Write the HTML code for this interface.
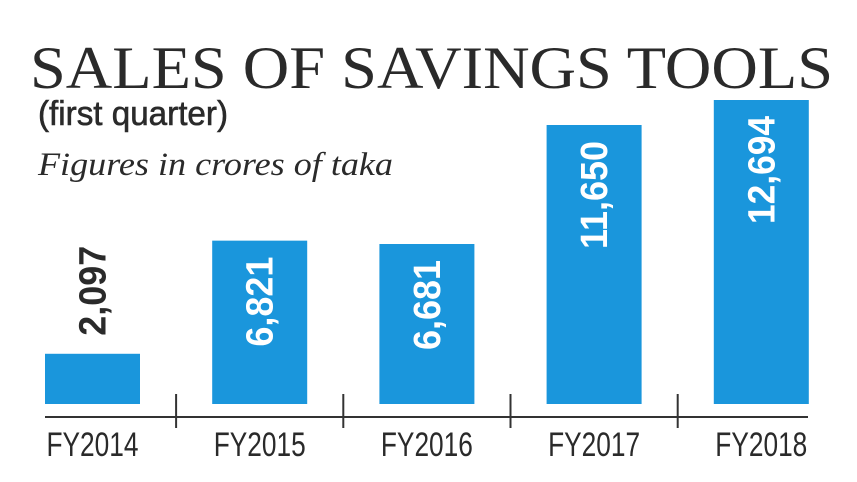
<!DOCTYPE html>
<html><head><meta charset="utf-8"><style>
html,body{margin:0;padding:0;background:#fff;}
svg{display:block;}
</style></head><body>
<svg id="chart" width="857" height="482" viewBox="0 0 857 482" xmlns="http://www.w3.org/2000/svg">
<text x="30" y="88" font-family="Liberation Serif, serif" font-size="60" textLength="803" lengthAdjust="spacingAndGlyphs" fill="#2a2a2a">SALES OF SAVINGS TOOLS</text>
<text x="38" y="125" font-family="Liberation Sans, sans-serif" font-size="34" textLength="190" lengthAdjust="spacingAndGlyphs" fill="#2a2a2a" stroke="#2a2a2a" stroke-width="0.6">(first quarter)</text>
<text x="38" y="175" font-family="Liberation Serif, serif" font-style="italic" font-size="33" textLength="355" lengthAdjust="spacingAndGlyphs" fill="#2a2a2a">Figures in crores of taka</text>
<g id="bars"></g>
<line x1="45" y1="417" x2="808" y2="417" stroke="#333" stroke-width="2"/>
</svg>
<script>
const categories = ["FY2014","FY2015","FY2016","FY2017","FY2018"];
const values = [2097, 6821, 6681, 11650, 12694];
const valueLabels = ["2,097","6,821","6,681","11,650","12,694"];

const svg = document.getElementById('chart');
const g = document.getElementById('bars');
const NS = "http://www.w3.org/2000/svg";
const baseY = 404, plotH = 304, maxV = 12694;
const x0 = 45, step = 167.2, barW = 95;
function yScale(v){ return baseY - v / maxV * plotH; }
function xScale(i){ return x0 + i * step; }

categories.forEach((c, i) => {
  const x = xScale(i), y = yScale(values[i]);
  const r = document.createElementNS(NS, 'rect');
  r.setAttribute('x', x); r.setAttribute('y', y);
  r.setAttribute('width', barW); r.setAttribute('height', baseY - y);
  r.setAttribute('fill', '#1a96dc');
  
  
  g.appendChild(r);

  const inside = (baseY - y) > 130;
  const cx = x + barW / 2;
  const len = valueLabels[i].length * 18;
  const t = document.createElementNS(NS, 'text');
  const ty = inside ? y + 16 : y - 18;
  t.setAttribute('transform', 'translate(' + (cx + 13) + ',' + ty + ') rotate(-90)');
  t.setAttribute('text-anchor', inside ? 'end' : 'start');
  t.setAttribute('font-family', 'Liberation Sans, sans-serif');
  t.setAttribute('font-weight', 'bold');
  t.setAttribute('font-size', '38');
  t.setAttribute('textLength', len);
  t.setAttribute('lengthAdjust', 'spacingAndGlyphs');
  t.setAttribute('fill', inside ? '#fff' : '#2a2a2a');
  t.textContent = valueLabels[i];
  
  
  g.appendChild(t);

  const l = document.createElementNS(NS, 'text');
  l.setAttribute('x', cx); l.setAttribute('y', 456);
  l.setAttribute('text-anchor', 'middle');
  l.setAttribute('font-family', 'Liberation Sans, sans-serif');
  l.setAttribute('font-size', '34');
  l.setAttribute('textLength', 92);
  l.setAttribute('lengthAdjust', 'spacingAndGlyphs');
  l.setAttribute('fill', '#2a2a2a');
  l.textContent = c;
  
  
  g.appendChild(l);

  if (i > 0) {
    const tx = x - (step - barW) / 2;
    const tk = document.createElementNS(NS, 'line');
    tk.setAttribute('x1', tx); tk.setAttribute('x2', tx);
    tk.setAttribute('y1', 394); tk.setAttribute('y2', 428);
    tk.setAttribute('stroke', '#333'); tk.setAttribute('stroke-width', '2');
    
    
    g.appendChild(tk);
  }
});
</script>
</body></html>
